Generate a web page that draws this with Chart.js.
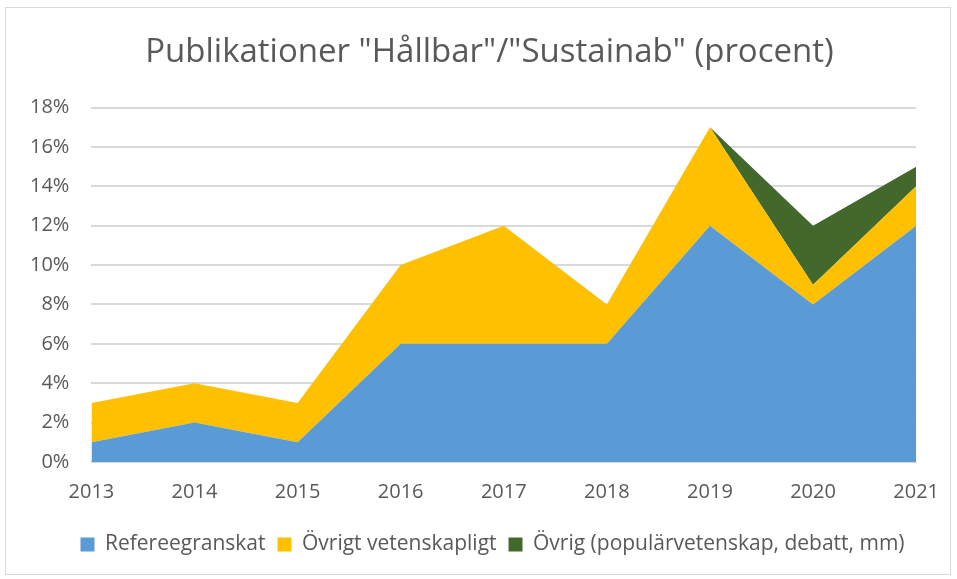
<!DOCTYPE html>
<html>
<head>
<meta charset="utf-8">
<script src="https://cdn.jsdelivr.net/npm/chart.js@4"></script>
<style>
  html, body { margin: 0; padding: 0; background: #fff; }
  #box {
    position: absolute; left: 5px; top: 7px; width: 946px; height: 568px;
    border: 1px solid #d9d9d9; box-sizing: border-box;
  }
  #wrap { position: absolute; left: 0; top: 0; width: 957px; height: 579px; }
</style>
</head>
<body>
<div id="box"></div>
<div id="wrap"><canvas id="chart"></canvas></div>
<script>
// Chart data
const years = ['2013', '2014', '2015', '2016', '2017', '2018', '2019', '2020', '2021'];
const refereegranskat = [1, 2, 1, 6, 6, 6, 12, 8, 12];
const ovrigtVetenskapligt = [2, 2, 2, 4, 6, 2, 5, 1, 2];
const ovrig = [0, 0, 0, 0, 0, 0, 0, 3, 1];

const textColor = '#595959';
const fontFamily = "'Open Sans', sans-serif";

const ctx = document.getElementById('chart');
const chart = new Chart(ctx, {
  type: 'line',
  data: {
    labels: years,
    datasets: [
      // Blue area
      {
        label: 'Refereegranskat',
        data: refereegranskat,
        backgroundColor: '#5B9BD5',
        borderColor: '#5B9BD5',
        borderWidth: 0,
        fill: 'origin',
        tension: 0,
        pointRadius: 0,
      },
      // Yellow area
      {
        label: 'Övrigt vetenskapligt',
        data: ovrigtVetenskapligt,
        backgroundColor: '#FFC000',
        borderColor: '#FFC000',
        borderWidth: 0,
        fill: '-1',
        tension: 0,
        pointRadius: 0,
      },
      // Green area
      {
        label: 'Övrig (populärvetenskap, debatt, mm)',
        data: ovrig,
        backgroundColor: '#43682B',
        borderColor: '#43682B',
        borderWidth: 0,
        fill: '-1',
        tension: 0,
        pointRadius: 0,
      },
    ],
  },
  options: {
    responsive: true,
    maintainAspectRatio: false,
    animation: false,
    layout: {
      padding: { left: 8, right: 40, top: 33, bottom: 14 },
    },
    scales: {
      x: {
        offset: false,
        grid: { display: false, drawTicks: false },
        border: { color: '#d9d9d9' },
        ticks: {
          color: textColor,
          font: { family: fontFamily, size: 20 },
          maxRotation: 0,
          padding: 18,
        },
      },
      y: {
        stacked: true,
        min: 0,
        max: 18,
        grid: { color: '#d9d9d9', lineWidth: 2, drawTicks: false },
        border: { display: false },
        ticks: {
          stepSize: 2,
          color: textColor,
          font: { family: fontFamily, size: 20 },
          padding: 22,
          callback: (value) => value + '%',
        },
      },
    },
    plugins: {
      title: {
        display: true,
        text: 'Publikationer "Hållbar"/"Sustainab" (procent)',
        color: textColor,
        font: { family: fontFamily, size: 33, weight: 'normal' },
        padding: { top: 0, bottom: 35 },
      },
      legend: {
        position: 'bottom',
        labels: {
          color: textColor,
          font: { family: fontFamily, size: 21 },
          boxWidth: 14,
          boxHeight: 14,
          padding: 12,
        },
      },
      tooltip: { enabled: false },
    },
  },
  plugins: [{
    // Nudge title and legend to sit centred like the original
    id: 'shiftBlocks',
    afterLayout(c) {
      if (c.titleBlock) {
        c.titleBlock.left += 27;
        c.titleBlock.right += 27;
      }
      if (c.legend) {
        c.legend.left += 30;
        c.legend.right += 30;
      }
    },
  }],
});
</script>
</body>
</html>
